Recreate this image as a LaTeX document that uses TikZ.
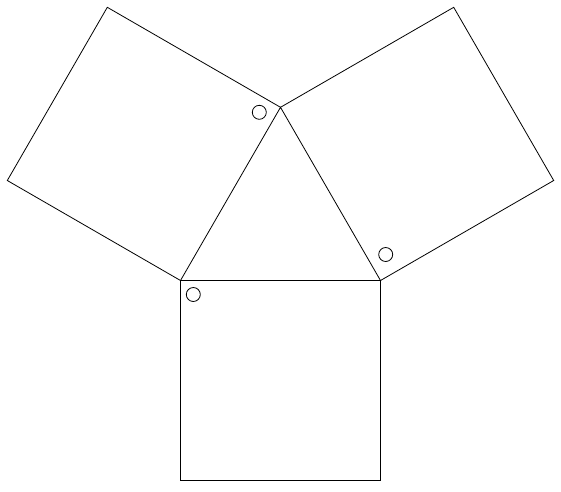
\documentclass[tikz,border=0pt]{standalone}
\usepackage{tikz}
\usetikzlibrary{calc}

\begin{document}
\begin{tikzpicture}[
  x=1pt, y=-1pt,
  edge/.style={draw, line width=0.8pt},
  mark circ/.style={draw, line width=0.8pt, circle, minimum size=14pt, inner sep=0pt},
]
\useasboundingbox (0,0) rectangle (561,491);
% triangle
\coordinate (a) at (180.5,280.5);
\coordinate (b) at (380.5,280.5);
\coordinate (c) at (280.5,107.3);
% outer corners of the squares
\coordinate (a1) at (180.5,480.5);
\coordinate (b1) at (380.5,480.5);
\coordinate (a2) at ($(a)+(-173.2,-100)$);
\coordinate (c2) at ($(c)+(-173.2,-100)$);
\coordinate (b3) at ($(b)+(173.2,-100)$);
\coordinate (c3) at ($(c)+(173.2,-100)$);
\draw[edge] (a) -- (b) -- (c) -- cycle;
\draw[edge] (a) -- (a1) -- (b1) -- (b);
\draw[edge] (a) -- (a2) -- (c2) -- (c);
\draw[edge] (b) -- (b3) -- (c3) -- (c);
% corner marks
\node[mark circ] (ma) at (193.3,294.5) {};
\node[mark circ] (mc) at (259.3,112.3) {};
\node[mark circ] (mb) at (385.7,254.5) {};
\end{tikzpicture}
\end{document}
